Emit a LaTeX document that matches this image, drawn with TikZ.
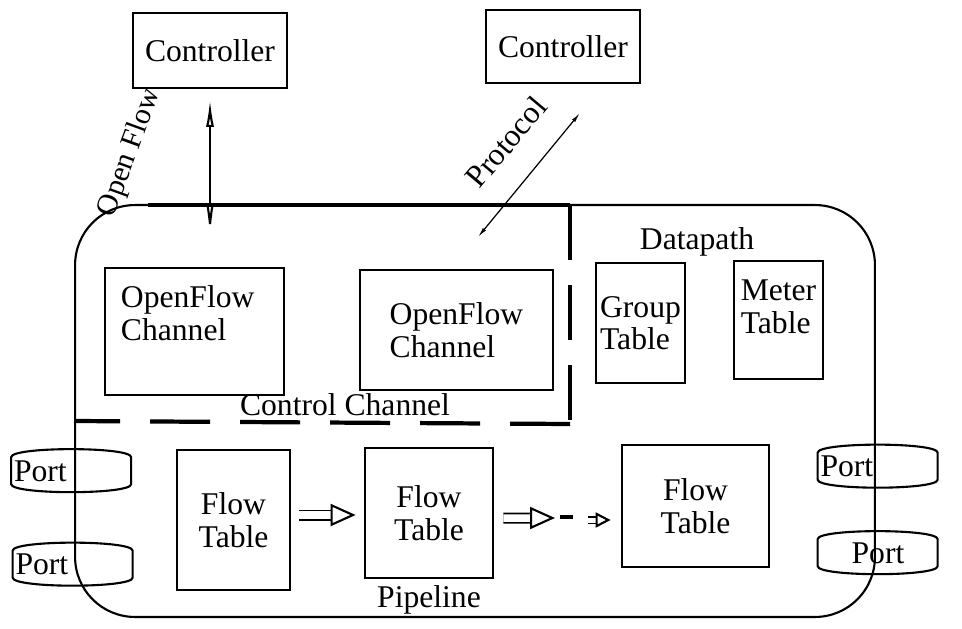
\documentclass[tikz,border=0pt]{standalone}
\usepackage{fontspec}
\setmainfont{Liberation Serif}
\newfontfamily\serfont{Liberation Serif}
\usetikzlibrary{arrows.meta, positioning, calc}

\begin{document}
\begin{tikzpicture}[
    x=0.02cm, y=-0.02cm,
    every node/.style={font=\serfont\fontsize{18}{18.5}\selectfont, inner sep=0pt},
    box/.style={rectangle, draw, line width=1.6pt, align=center},
    port/.style={rectangle, minimum width=2.4cm, minimum height=0.86cm, text width=2.3cm, align=left},
    drum/.style={line width=1.2pt},
    chan/.style={line width=2.4pt},
    ofarrow/.style={{Latex[open, length=5.5mm, width=1.6mm]}-{Latex[open, length=7mm, width=1.6mm]}, line width=1.2pt},
    protoline/.style={{Latex[open, length=2mm, width=0.8mm]}-{Latex[open, length=2mm, width=0.8mm]}, line width=0.7pt},
    hollow/.style={double, line width=1pt, double distance=0.15cm, -{Triangle[open, length=0.5cm, width=0.44cm, line width=1.2pt]}},
    hollowsmall/.style={double, line width=1pt, double distance=0.1cm, -{Triangle[open, length=0.3cm, width=0.3cm, line width=1.2pt]}}
]
\useasboundingbox (0,0) rectangle (962,628);

% ============ DATAPATH ============
\node[draw, line width=1.2pt, rounded corners=1.2cm, minimum width=16cm, minimum height=8.24cm] (dp) at (475,411) {};
\node (dpl) at (697,242) {Datapath};

% ============ CONTROLLERS ============
\node[box, minimum width=3.08cm, minimum height=1.5cm] (ctrlA) at (210,50.5) {Controller};
\node[box, minimum width=3.08cm, minimum height=1.46cm] (ctrlB) at (563,46.5) {Controller};

% ============ CONTROL CHANNEL ============
\node[box, minimum width=3.58cm, minimum height=2.54cm,
      label={[anchor=north west, align=left, xshift=0.34cm, yshift=-0.38cm]north west:OpenFlow\\Channel}] (ofcA) at (194.5,331.5) {};
\node[box, align=left, minimum width=3.86cm, minimum height=2.4cm] (ofcB) at (456.5,330) {OpenFlow\\Channel};
\node (ccl) at (345,405) {Control Channel};

\coordinate (ccTL) at (148,205);
\coordinate (ccTR) at (570,205);
\coordinate (ccBR) at (570,424);
\coordinate (ccBL) at (74,421);
\draw[chan] (ccTL) -- (ccTR);
\draw[chan, dash pattern=on 1.1cm off 0.5cm] (ccTR) -- (ccBR);
\draw[chan, dash pattern=on 1.2cm off 0.6cm] (ccBR) -- (ccBL);

% ============ TABLES ============
\node[box, align=left, minimum width=1.78cm, minimum height=2.4cm] (grp) at (640.5,323) {Group\\Table};
\node[box, minimum width=1.78cm, minimum height=2.36cm,
      label={[align=left, yshift=0.26cm]center:Meter\\Table}] (meter) at (778.5,320) {};

\node[box, minimum width=2.26cm, minimum height=2.8cm] (ft1) at (233.5,520) {Flow\\Table};
\node[box, minimum width=2.56cm, minimum height=2.6cm] (ft2) at (429,513) {Flow\\Table};
\node[box, minimum width=2.94cm, minimum height=2.44cm] (ft3) at (695.5,506) {Flow\\Table};
\node[below=0.12cm of ft2] (pl) {Pipeline};

% ============ PORTS ============
\node[port] (portA) at (71.5,471) {Port};
\node[port] (portB) at (73,564.5) {Port};
\node[port] (portC) at (878,466.5) {Port};
\node[port, align=center] (portD) at (878,553) {Port};
\foreach \p in {portA,portB,portC,portD}
  \draw[drum] (\p.north west) ++(0,8) .. controls +(0,-10.7) and +(0,-10.7) .. ++(120,0)
     -- ++(0,27) .. controls +(0,10.7) and +(0,10.7) .. ++(-120,0) -- cycle;

% ============ ARROWS ============
\coordinate (ofEnd) at (210,238);
\draw[ofarrow] ([yshift=-0.2cm]ctrlA.south) -- (ofEnd);
\node[rotate=70, font=\serfont\fontsize{17}{18}\selectfont] (ofl) at (130,153) {Open Flow};

\coordinate (prA) at (478,237);
\coordinate (prB) at (580,113);
\draw[protoline] (prA) -- (prB);
\node[rotate=50] (prl) at (506,142) {Protocol};

% Pipeline
\coordinate (pipeA) at (555,518);
\coordinate (pipeB) at (560,517);
\coordinate (pipeC) at (573,517);
\coordinate (pipeD) at (588,520);
\draw[hollow, shorten <=0.16cm, shorten >=0.16cm] ([yshift=0.1cm]ft1.east) -- ([yshift=0.1cm]ft1.east -| ft2.west);
\draw[hollow, shorten <=0.18cm] ([yshift=-0.1cm]ft2.east) -- (pipeA);
\draw[chan] (pipeB) -- (pipeC);
\draw[hollowsmall, shorten >=0.2cm] (pipeD) -- (pipeD -| ft3.west);

\end{tikzpicture}
\end{document}
